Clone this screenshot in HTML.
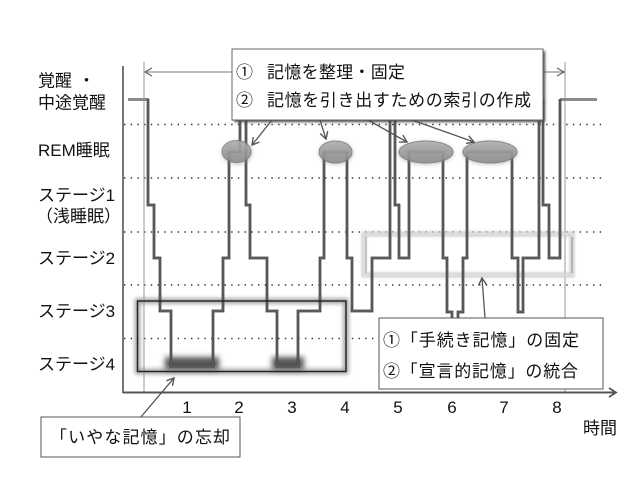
<!DOCTYPE html>
<html><head><meta charset="utf-8"><style>
html,body{margin:0;padding:0;background:#fff;}
svg{display:block;}
text{font-family:"Liberation Sans","Noto Sans CJK JP",sans-serif;fill:#111;font-size:17px;}
</style></head><body>
<svg width="640" height="480" viewBox="0 0 640 480" xmlns="http://www.w3.org/2000/svg">
<defs>
<filter id="b3" x="-30%" y="-60%" width="160%" height="220%"><feGaussianBlur stdDeviation="3"/></filter>
<filter id="b2" x="-20%" y="-40%" width="140%" height="180%"><feGaussianBlur stdDeviation="2"/></filter>
<filter id="b1" x="-10%" y="-20%" width="120%" height="140%"><feGaussianBlur stdDeviation="1.2"/></filter>
<linearGradient id="eg" x1="0" y1="0" x2="0" y2="1"><stop offset="0" stop-color="#b0b0b0"/><stop offset="1" stop-color="#8a8a8a"/></linearGradient>
<marker id="ah" markerWidth="10" markerHeight="10" refX="8" refY="5" orient="auto" markerUnits="userSpaceOnUse"><path d="M1,1 L8,5 L1,9" fill="none" stroke="#555" stroke-width="1.4"/></marker>
</defs>
<rect width="640" height="480" fill="#fff"/>

<!-- dotted grid -->
<g stroke="#333" stroke-width="1.6" stroke-dasharray="1.4 5.3">
<line x1="124" y1="124.5" x2="604" y2="124.5"/>
<line x1="124" y1="178" x2="604" y2="178"/>
<line x1="124" y1="232" x2="604" y2="232"/>
<line x1="124" y1="285" x2="604" y2="285"/>
<line x1="124" y1="338.5" x2="604" y2="338.5"/>
</g>

<!-- thin verticals -->
<line x1="144" y1="62" x2="144" y2="392" stroke="#999" stroke-width="1"/>
<line x1="565" y1="62" x2="565" y2="392" stroke="#999" stroke-width="1"/>

<!-- dimension line -->
<line x1="145" y1="72" x2="564" y2="72" stroke="#777" stroke-width="1"/>
<polyline points="152,68 145,72 152,76" fill="none" stroke="#666" stroke-width="1.2"/>
<polyline points="557,68 564,72 557,76" fill="none" stroke="#666" stroke-width="1.2"/>

<!-- axes -->
<line x1="123" y1="66" x2="123" y2="393" stroke="#666" stroke-width="1.8"/>
<line x1="123" y1="392.5" x2="616" y2="392.5" stroke="#555" stroke-width="2"/>
<polyline points="609,388 616,392.5 609,397" fill="none" stroke="#555" stroke-width="1.8"/>

<!-- stage 2 glow rect -->
<rect x="364" y="234" width="208" height="41" fill="none" stroke="#cfcfcf" stroke-width="5" filter="url(#b1)"/>
<rect x="364" y="234" width="208" height="41" fill="none" stroke="#e8e8e8" stroke-width="1"/>
<line x1="366" y1="237" x2="366" y2="273" stroke="#aaa" stroke-width="1"/>
<line x1="572" y1="237" x2="572" y2="273" stroke="#999" stroke-width="1"/>

<!-- stage 3-4 rect glow -->
<rect x="137.5" y="301" width="208.5" height="70.5" fill="none" stroke="#999" stroke-width="5" filter="url(#b2)"/>

<!-- stage4 blobs -->
<rect x="165" y="357" width="54" height="13" fill="#555" filter="url(#b3)"/>
<rect x="272" y="357" width="32" height="13" fill="#555" filter="url(#b3)"/>

<!-- wake ends -->
<line x1="128" y1="99.5" x2="149" y2="99.5" stroke="#8a8a8a" stroke-width="3"/>
<line x1="560" y1="99.5" x2="597" y2="99.5" stroke="#8a8a8a" stroke-width="3"/>

<!-- hypnogram -->
<path id="hyp" d="M148,99 V205 H154 V258 H160 V311 H171 V366 H213 V311 H223 V258 H229 V152 H240 V100 H246 V205 H250 V258 H267 V311 H277 V366 H298 V311 H320 V258 H324 V152 H347 V258 H352 V311 H372 V258 H390 V100 H395 V205 H399 V258 H409 V152 H443 V258 H447 V312 H452 V366 H458 V312 H463 V258 H467 V152 H512 V258 H518 V312 H523 V258 H539 V100 H543 V205 H549 V258 H560 V99" fill="none" stroke="#3c3c3c" stroke-width="2.7" stroke-linejoin="miter"/>
<path d="M148,99 V205 H154 V258 H160 V311 H171 V366 H213 V311 H223 V258 H229 V152 H240 V100 H246 V205 H250 V258 H267 V311 H277 V366 H298 V311 H320 V258 H324 V152 H347 V258 H352 V311 H372 V258 H390 V100 H395 V205 H399 V258 H409 V152 H443 V258 H447 V312 H452 V366 H458 V312 H463 V258 H467 V152 H512 V258 H518 V312 H523 V258 H539 V100 H543 V205 H549 V258 H560 V99" fill="none" stroke="#8a8a8a" stroke-width="0.7"/>

<!-- stage 3-4 rect line -->
<rect x="137.5" y="301" width="208.5" height="70.5" fill="none" stroke="#222" stroke-width="1.4"/>

<!-- ellipses -->
<g>
<ellipse cx="237" cy="153" rx="15" ry="11.5" fill="#888" opacity="0.5" filter="url(#b2)"/>
<ellipse cx="236.5" cy="151.5" rx="14.5" ry="11" fill="url(#eg)" stroke="#777" stroke-width="1" opacity="0.85"/>
<ellipse cx="336" cy="153" rx="17" ry="11.5" fill="#888" opacity="0.5" filter="url(#b2)"/>
<ellipse cx="335.5" cy="152" rx="16.5" ry="11" fill="url(#eg)" stroke="#777" stroke-width="1" opacity="0.85"/>
<ellipse cx="426" cy="153" rx="27.5" ry="11.5" fill="#888" opacity="0.5" filter="url(#b2)"/>
<ellipse cx="426" cy="152" rx="27" ry="11" fill="url(#eg)" stroke="#777" stroke-width="1" opacity="0.85"/>
<ellipse cx="490" cy="153" rx="27.5" ry="11.5" fill="#888" opacity="0.5" filter="url(#b2)"/>
<ellipse cx="490" cy="152" rx="27" ry="11" fill="url(#eg)" stroke="#777" stroke-width="1" opacity="0.85"/>
</g>

<!-- arrows -->
<g stroke="#555" stroke-width="1.3" fill="none" marker-end="url(#ah)">
<line x1="272" y1="120" x2="252" y2="145"/>
<line x1="320" y1="120" x2="326" y2="139"/>
<line x1="368" y1="120" x2="407" y2="142"/>
<line x1="412" y1="120" x2="474" y2="142"/>
<line x1="140" y1="418" x2="174" y2="378"/>
<line x1="485" y1="318" x2="482" y2="278"/>
</g>

<!-- top callout -->
<rect x="234" y="51" width="311" height="71" fill="#444" filter="url(#b1)"/>
<rect x="232" y="49" width="311" height="71" fill="#fff" stroke="#666" stroke-width="1"/>
<text x="236" y="78">①</text>
<text x="267" y="78" textLength="138" lengthAdjust="spacing">記憶を整理・固定</text>
<text x="236" y="106">②</text>
<text x="267" y="106" textLength="264" lengthAdjust="spacing">記憶を引き出すための索引の作成</text>

<!-- bottom-right callout -->
<rect x="379" y="318" width="224" height="71" fill="#fff" stroke="#555" stroke-width="1"/>
<text x="383" y="346" textLength="196" lengthAdjust="spacing">①「手続き記憶」の固定</text>
<text x="383" y="377" textLength="195" lengthAdjust="spacing">②「宣言的記憶」の統合</text>

<!-- bottom-left callout -->
<rect x="41" y="417" width="199" height="40" fill="#fff" stroke="#555" stroke-width="1"/>
<text x="50" y="443" textLength="180" lengthAdjust="spacing">「いやな記憶」の忘却</text>

<!-- y labels -->
<text x="38" y="86.5">覚醒</text>
<text x="78" y="86.5">・</text>
<text x="38" y="108.5">中途覚醒</text>
<text x="38" y="156">REM睡眠</text>
<text x="38" y="201">ステージ1</text>
<text x="36" y="222">（浅睡眠）</text>
<text x="38" y="264">ステージ2</text>
<text x="38" y="317">ステージ3</text>
<text x="38" y="370">ステージ4</text>

<!-- x labels -->
<g text-anchor="middle">
<text x="187" y="413">1</text>
<text x="239" y="413">2</text>
<text x="292" y="413">3</text>
<text x="345" y="413">4</text>
<text x="398" y="413">5</text>
<text x="452" y="413">6</text>
<text x="504" y="413">7</text>
<text x="557" y="413">8</text>
</g>
<text x="583" y="434">時間</text>
</svg>
</body></html>
